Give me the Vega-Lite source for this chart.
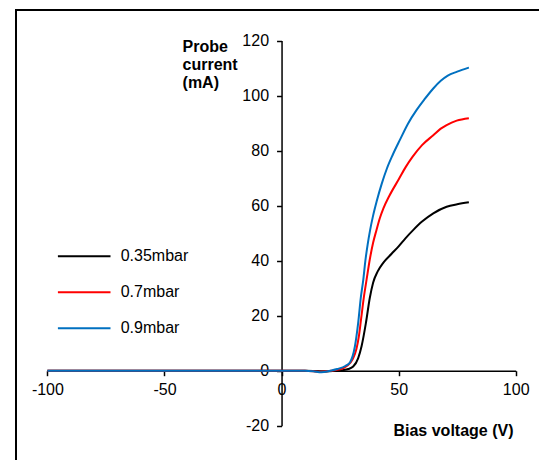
{
  "$schema": "https://vega.github.io/schema/vega-lite/v6.json",
  "width": 540,
  "height": 470,
  "autosize": {"type": "none"},
  "padding": {"left": 16, "top": 10, "right": 0, "bottom": 0},
  "background": "white",
  "config": {
    "view": {"stroke": "black", "strokeWidth": 2},
    "font": "Liberation Sans",
    "axis": {"labelFont": "Liberation Sans", "titleFont": "Liberation Sans"},
    "legend": {"labelFont": "Liberation Sans"}
  },
  "data": {
    "values": [
      {"s": "0.35mbar", "v": -100, "i": 0},
      {"s": "0.35mbar", "v": -50, "i": 0},
      {"s": "0.35mbar", "v": 0, "i": 0},
      {"s": "0.35mbar", "v": 10, "i": 0},
      {"s": "0.35mbar", "v": 17, "i": -0.3},
      {"s": "0.35mbar", "v": 22, "i": -0.1},
      {"s": "0.35mbar", "v": 26, "i": 0.2},
      {"s": "0.35mbar", "v": 28.5, "i": 0.6},
      {"s": "0.35mbar", "v": 30.6, "i": 1.5},
      {"s": "0.35mbar", "v": 32.7, "i": 4.5},
      {"s": "0.35mbar", "v": 34.2, "i": 9},
      {"s": "0.35mbar", "v": 36, "i": 17.2},
      {"s": "0.35mbar", "v": 37.7, "i": 26.5},
      {"s": "0.35mbar", "v": 39.1, "i": 32},
      {"s": "0.35mbar", "v": 41, "i": 36},
      {"s": "0.35mbar", "v": 43.5, "i": 39.3},
      {"s": "0.35mbar", "v": 47, "i": 42.5},
      {"s": "0.35mbar", "v": 50, "i": 45.2},
      {"s": "0.35mbar", "v": 53, "i": 48.2},
      {"s": "0.35mbar", "v": 56.2, "i": 51.1},
      {"s": "0.35mbar", "v": 60, "i": 54.2},
      {"s": "0.35mbar", "v": 64.8, "i": 57.2},
      {"s": "0.35mbar", "v": 70.5, "i": 59.6},
      {"s": "0.35mbar", "v": 75, "i": 60.5},
      {"s": "0.35mbar", "v": 80, "i": 61.2},
      {"s": "0.7mbar", "v": -100, "i": 0},
      {"s": "0.7mbar", "v": -50, "i": 0},
      {"s": "0.7mbar", "v": 0, "i": 0},
      {"s": "0.7mbar", "v": 10, "i": 0},
      {"s": "0.7mbar", "v": 17, "i": -0.4},
      {"s": "0.7mbar", "v": 21, "i": 0},
      {"s": "0.7mbar", "v": 25, "i": 0.5},
      {"s": "0.7mbar", "v": 28, "i": 1.8},
      {"s": "0.7mbar", "v": 30.4, "i": 4.2},
      {"s": "0.7mbar", "v": 32, "i": 8},
      {"s": "0.7mbar", "v": 33, "i": 12.4},
      {"s": "0.7mbar", "v": 34, "i": 19},
      {"s": "0.7mbar", "v": 35.2, "i": 27},
      {"s": "0.7mbar", "v": 36.3, "i": 33},
      {"s": "0.7mbar", "v": 37.7, "i": 40.5},
      {"s": "0.7mbar", "v": 39.1, "i": 46.5},
      {"s": "0.7mbar", "v": 40.5, "i": 51},
      {"s": "0.7mbar", "v": 42, "i": 55.5},
      {"s": "0.7mbar", "v": 43.5, "i": 59},
      {"s": "0.7mbar", "v": 46, "i": 63.5},
      {"s": "0.7mbar", "v": 50, "i": 69.5},
      {"s": "0.7mbar", "v": 53, "i": 74},
      {"s": "0.7mbar", "v": 56, "i": 77.8},
      {"s": "0.7mbar", "v": 60, "i": 82},
      {"s": "0.7mbar", "v": 64.8, "i": 85.6},
      {"s": "0.7mbar", "v": 68, "i": 88},
      {"s": "0.7mbar", "v": 70.5, "i": 89.3},
      {"s": "0.7mbar", "v": 74.8, "i": 90.9},
      {"s": "0.7mbar", "v": 80, "i": 91.8},
      {"s": "0.9mbar", "v": -100, "i": 0},
      {"s": "0.9mbar", "v": -50, "i": 0},
      {"s": "0.9mbar", "v": 0, "i": 0},
      {"s": "0.9mbar", "v": 10, "i": 0},
      {"s": "0.9mbar", "v": 13.5, "i": -0.2},
      {"s": "0.9mbar", "v": 17, "i": -0.6},
      {"s": "0.9mbar", "v": 20.8, "i": 0},
      {"s": "0.9mbar", "v": 23.8, "i": 0.6},
      {"s": "0.9mbar", "v": 27.4, "i": 1.8},
      {"s": "0.9mbar", "v": 29.2, "i": 3},
      {"s": "0.9mbar", "v": 31.3, "i": 8.7},
      {"s": "0.9mbar", "v": 32.7, "i": 17.2},
      {"s": "0.9mbar", "v": 33.9, "i": 26.9},
      {"s": "0.9mbar", "v": 34.9, "i": 33},
      {"s": "0.9mbar", "v": 35.8, "i": 40},
      {"s": "0.9mbar", "v": 36.8, "i": 46},
      {"s": "0.9mbar", "v": 37.8, "i": 51},
      {"s": "0.9mbar", "v": 39, "i": 56},
      {"s": "0.9mbar", "v": 40.6, "i": 61.5},
      {"s": "0.9mbar", "v": 42.8, "i": 68},
      {"s": "0.9mbar", "v": 45, "i": 73.5},
      {"s": "0.9mbar", "v": 47.5, "i": 78.5},
      {"s": "0.9mbar", "v": 50.6, "i": 84},
      {"s": "0.9mbar", "v": 54, "i": 89.8},
      {"s": "0.9mbar", "v": 57.7, "i": 94.8},
      {"s": "0.9mbar", "v": 61, "i": 98.6},
      {"s": "0.9mbar", "v": 64.8, "i": 102.6},
      {"s": "0.9mbar", "v": 68, "i": 105.4},
      {"s": "0.9mbar", "v": 71, "i": 107.3},
      {"s": "0.9mbar", "v": 75, "i": 108.7},
      {"s": "0.9mbar", "v": 80, "i": 110.2}
    ]
  },
  "mark": {"type": "line", "interpolate": "monotone", "strokeWidth": 2, "clip": false},
  "encoding": {
    "x": {
      "field": "v",
      "type": "quantitative",
      "scale": {"domain": [-100, 100], "range": [31.4, 499.7], "nice": false, "zero": false},
      "axis": {
        "title": "Bias voltage (V)",
        "offset": -109.3,
        "values": [-100, -50, 0, 50, 100],
        "labelExpr": "'' + datum.value",
        "grid": false,
        "domainColor": "black",
        "domainWidth": 1.5,
        "tickColor": "black",
        "tickWidth": 1.5,
        "tickSize": 5,
        "labelFontSize": 16,
        "labelColor": "black",
        "labelPadding": 6,
        "labelFlush": false,
        "labelOverlap": false,
        "titleFontSize": 16,
        "titleFontWeight": "bold",
        "titleColor": "black",
        "titleX": 497,
        "titleY": 65,
        "titleAlign": "right",
        "titleBaseline": "alphabetic"
      }
    },
    "y": {
      "field": "i",
      "type": "quantitative",
      "scale": {"domain": [-20, 120], "range": [415.7, 30.6], "nice": false, "zero": false},
      "axis": {
        "title": ["Probe", "current", "(mA)"],
        "offset": -265.55,
        "values": [-20, 0, 20, 40, 60, 80, 100, 120],
        "labelExpr": "'' + datum.value",
        "grid": false,
        "domainColor": "black",
        "domainWidth": 1.5,
        "tickColor": "black",
        "tickWidth": 1.5,
        "tickSize": 5,
        "labelFontSize": 16,
        "labelColor": "black",
        "labelPadding": 8,
        "labelFlush": false,
        "labelOverlap": false,
        "titleFontSize": 16,
        "titleFontWeight": "bold",
        "titleColor": "black",
        "titleAngle": 0,
        "titleX": -99.5,
        "titleY": 41,
        "titleAlign": "left",
        "titleBaseline": "alphabetic",
        "titleLineHeight": 18
      }
    },
    "color": {
      "field": "s",
      "type": "nominal",
      "scale": {"domain": ["0.35mbar", "0.7mbar", "0.9mbar"], "range": ["#000000", "#FF0000", "#0070C0"]},
      "legend": {
        "title": null,
        "orient": "none",
        "legendX": 40.7,
        "legendY": 218.7,
        "padding": 0,
        "symbolType": "stroke",
        "symbolSize": 2767,
        "symbolStrokeWidth": 2,
        "labelFontSize": 16,
        "labelColor": "black",
        "labelOffset": 9,
        "rowPadding": -20.2
      }
    }
  }
}
